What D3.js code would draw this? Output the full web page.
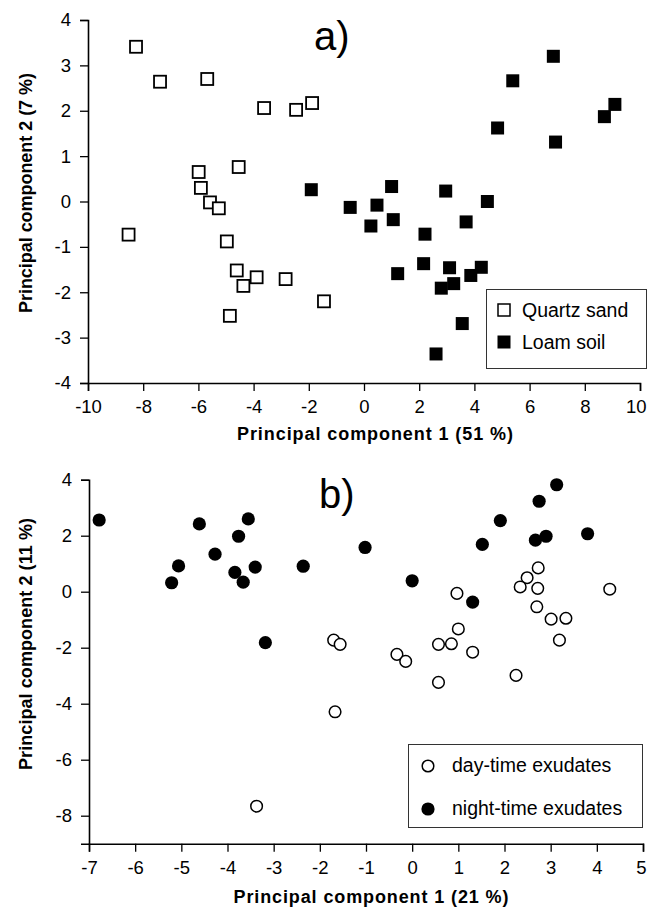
<!DOCTYPE html>
<html>
<head>
<meta charset="utf-8">
<script src="https://cdn.jsdelivr.net/npm/d3@7"></script>
<style>
  body { margin: 0; background: #fff; }
  svg { display: block; }
  text { font-family: "Liberation Sans", Arial, Helvetica, sans-serif; fill: #000; }
</style>
</head>
<body>
<div id="chart"></div>
<script>
// a) Principal components, quartz sand vs loam soil
const quartzSand = [
    [-8.26, 3.41], [-7.39, 2.64], [-5.68, 2.70], [-3.62, 2.06], [-2.46, 2.02], [-1.88, 2.17],
    [-4.54, 0.76], [-5.99, 0.65], [-5.91, 0.30], [-5.58, -0.02], [-5.26, -0.15], [-8.53, -0.73],
    [-4.97, -0.88], [-4.61, -1.52], [-3.89, -1.67], [-4.37, -1.86], [-2.84, -1.71], [-4.86, -2.52],
    [-1.45, -2.20]
];
const loamSoil = [
    [6.86, 3.20], [5.39, 2.66], [9.09, 2.14], [8.71, 1.87], [4.84, 1.62], [6.94, 1.31],
    [-1.91, 0.26], [1.00, 0.33], [-0.50, -0.13], [0.47, -0.08], [2.96, 0.23], [4.47, 0.00],
    [1.06, -0.40], [0.25, -0.54], [3.70, -0.45], [2.21, -0.72], [2.16, -1.37], [1.22, -1.59],
    [3.10, -1.46], [4.25, -1.45], [3.87, -1.63], [3.25, -1.81], [2.80, -1.91], [3.56, -2.69],
    [2.61, -3.36]
];

// b) day-time vs night-time exudates
const dayExudates = [
    [2.73, 0.85], [2.49, 0.50], [2.34, 0.17], [2.72, 0.12], [4.28, 0.09], [0.97, -0.06],
    [2.70, -0.54], [3.01, -0.98], [3.33, -0.95], [1.00, -1.33], [3.19, -1.73], [-1.70, -1.73],
    [-1.56, -1.88], [0.57, -1.88], [0.85, -1.86], [1.31, -2.16], [-0.33, -2.24], [-0.14, -2.49],
    [0.57, -3.24], [2.25, -2.99], [-1.67, -4.29], [-3.37, -7.66]
];
const nightExudates = [
    [-6.78, 2.56], [-4.61, 2.42], [-3.55, 2.60], [-3.76, 1.98], [-4.27, 1.34], [-5.06, 0.92],
    [-5.21, 0.32], [-3.84, 0.69], [-3.40, 0.88], [-3.66, 0.34], [-2.36, 0.91], [-3.18, -1.82],
    [3.13, 3.82], [2.75, 3.23], [1.91, 2.54], [3.80, 2.07], [2.90, 1.98], [2.67, 1.84],
    [1.52, 1.69], [-1.02, 1.58], [0.00, 0.39], [1.31, -0.37]
];

const legendA = ['Quartz sand', 'Loam soil'];
const legendB = ['day-time exudates', 'night-time exudates'];

const svg = d3.select('#chart').append('svg')
    .attr('width', 648)
    .attr('height', 910);

// axes helper: major ticks with labels, minor ticks shorter without labels
function drawAxes(g, x, y, xMajor, xMinor, yMajor, yMinor) {
    const [x0, x1] = x.range();
    const [y0, y1] = y.range();
    const xa = g.append('g').attr('transform', `translate(0,${y0})`);
    xa.call(d3.axisBottom(x).tickValues(xMinor).tickSize(4).tickFormat(''));
    xa.call(d3.axisBottom(x).tickValues(xMajor).tickSize(8).tickPadding(9).tickFormat(d3.format('d')));
    const ya = g.append('g').attr('transform', `translate(${x0},0)`);
    ya.call(d3.axisLeft(y).tickValues(yMinor).tickSize(4).tickFormat(''));
    ya.call(d3.axisLeft(y).tickValues(yMajor).tickSize(8).tickPadding(9).tickFormat(d3.format('d')));
    g.selectAll('.domain').attr('stroke', '#000').attr('stroke-width', 1.6);
    g.selectAll('.tick line').attr('stroke', '#000').attr('stroke-width', 1.3);
    g.selectAll('.tick text')
        .attr('font-size', 18.5)
        .attr('font-family', '"Liberation Sans", Arial, sans-serif')
        .attr('fill', '#000')
        .text(function(d) { return d3.select(this).text().replace('−', '-'); });
    // keep the last x label inside the page edge
    xa.selectAll('.tick text').filter(d => d === xMajor[xMajor.length - 1] && x(d) > 630)
        .attr('text-anchor', 'end').attr('x', d => 646 - x(d));
}

function range(a, b, step) {
    return d3.range(Math.round((b - a) / step) + 1).map(i => +(a + i * step).toFixed(2));
}

// ---------- panel a ----------
const xA = d3.scaleLinear().domain([-10, 10]).range([88, 640]);
const yA = d3.scaleLinear().domain([-4, 4]).range([383, 20]);
const gA = svg.append('g');
drawAxes(gA, xA, yA, range(-10, 10, 2), range(-10, 10, 1), range(-4, 4, 1), range(-4, 4, 0.5));

const sq = 12;
gA.selectAll('rect.quartz')
    .data(quartzSand)
    .enter().append('rect')
    .attr('class', 'quartz')
    .attr('x', d => xA(d[0]) - sq / 2)
    .attr('y', d => yA(d[1]) - sq / 2)
    .attr('width', sq).attr('height', sq)
    .attr('fill', '#fff').attr('stroke', '#000').attr('stroke-width', 1.8);
gA.selectAll('rect.loam')
    .data(loamSoil)
    .enter().append('rect')
    .attr('class', 'loam')
    .attr('x', d => xA(d[0]) - 6.5)
    .attr('y', d => yA(d[1]) - 6.5)
    .attr('width', 13).attr('height', 13)
    .attr('fill', '#000');

gA.append('text').attr('x', 314).attr('y', 50)
    .attr('font-size', 40).text('a)');

gA.append('text').attr('x', 375).attr('y', 440)
    .attr('text-anchor', 'middle').attr('font-size', 18).attr('font-weight', 'bold')
    .attr('textLength', 276).attr('lengthAdjust', 'spacing')
    .text('Principal component 1 (51 %)');
gA.append('text').attr('transform', 'translate(32,193) rotate(-90)')
    .attr('text-anchor', 'middle').attr('font-size', 18).attr('font-weight', 'bold')
    .attr('textLength', 240).attr('lengthAdjust', 'spacing')
    .text('Principal component 2 (7 %)');

// legend a
gA.append('rect').attr('x', 486.5).attr('y', 289.5).attr('width', 160).attr('height', 79)
    .attr('fill', '#fff').attr('stroke', '#333').attr('stroke-width', 1);
const legA = gA.selectAll('g.leg').data(legendA).enter().append('g')
    .attr('transform', (d, i) => `translate(504,${310 + i * 32})`);
legA.append('rect')
    .attr('x', (d, i) => i ? -6.5 : -6).attr('y', (d, i) => i ? -6.5 : -6)
    .attr('width', (d, i) => i ? 13 : 12).attr('height', (d, i) => i ? 13 : 12)
    .attr('fill', (d, i) => i ? '#000' : '#fff')
    .attr('stroke', '#000').attr('stroke-width', (d, i) => i ? 0 : 1.5);
legA.append('text').attr('x', 18).attr('y', 7).attr('font-size', 19.5).text(d => d);

// ---------- panel b ----------
const xB = d3.scaleLinear().domain([-7, 5]).range([89, 643]);
const yB = d3.scaleLinear().domain([-9, 4]).range([843.7, 479.7]);
const gB = svg.append('g');
drawAxes(gB, xB, yB, range(-7, 5, 1), range(-7, 5, 0.2), range(-8, 4, 2), range(-9, 4, 0.5));

gB.selectAll('circle.day')
    .data(dayExudates)
    .enter().append('circle')
    .attr('class', 'day')
    .attr('cx', d => xB(d[0])).attr('cy', d => yB(d[1]))
    .attr('r', 5.8)
    .attr('fill', '#fff').attr('stroke', '#000').attr('stroke-width', 1.5);
gB.selectAll('circle.night')
    .data(nightExudates)
    .enter().append('circle')
    .attr('class', 'night')
    .attr('cx', d => xB(d[0])).attr('cy', d => yB(d[1]))
    .attr('r', 6.6)
    .attr('fill', '#000');

gB.append('text').attr('x', 319).attr('y', 508)
    .attr('font-size', 40).text('b)');

gB.append('text').attr('x', 371).attr('y', 903)
    .attr('text-anchor', 'middle').attr('font-size', 18).attr('font-weight', 'bold')
    .attr('textLength', 275).attr('lengthAdjust', 'spacing')
    .text('Principal component 1 (21 %)');
gB.append('text').attr('transform', 'translate(32,644) rotate(-90)')
    .attr('text-anchor', 'middle').attr('font-size', 18).attr('font-weight', 'bold')
    .attr('textLength', 252).attr('lengthAdjust', 'spacing')
    .text('Principal component 2 (11 %)');

// legend b
gB.append('rect').attr('x', 408.5).attr('y', 744.5).attr('width', 234).attr('height', 83)
    .attr('fill', '#fff').attr('stroke', '#333').attr('stroke-width', 1);
const legB = gB.selectAll('g.leg').data(legendB).enter().append('g')
    .attr('transform', (d, i) => `translate(428,${766 + i * 43})`);
legB.append('circle')
    .attr('r', (d, i) => i ? 6.6 : 5.8)
    .attr('fill', (d, i) => i ? '#000' : '#fff')
    .attr('stroke', '#000').attr('stroke-width', (d, i) => i ? 0 : 1.5);
legB.append('text').attr('x', 24).attr('y', 6).attr('font-size', 19.5).text(d => d);
</script>
</body>
</html>
